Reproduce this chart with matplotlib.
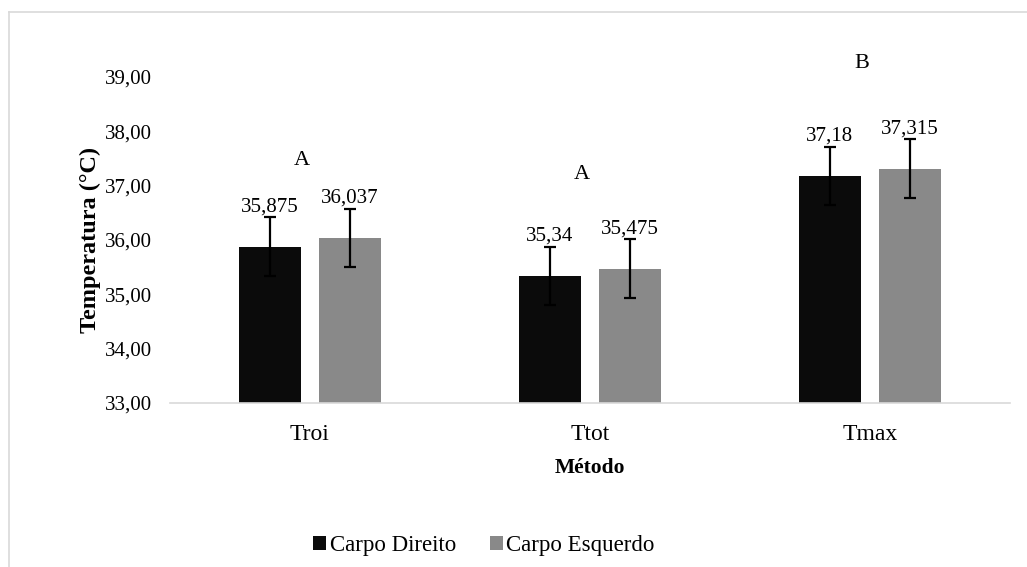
#!/usr/bin/env python3
"""Temperatura por metodo, carpo direito x esquerdo (barras com erro)."""

import matplotlib.pyplot as plt
import numpy as np
from matplotlib.lines import Line2D
from matplotlib.patches import Patch

plt.rcParams["font.family"] = ["Liberation Serif", "DejaVu Serif"]

metodos = ["Troi", "Ttot", "Tmax"]
carpo_direito = [35.875, 35.34, 37.18]
carpo_esquerdo = [36.037, 35.475, 37.315]
erro_direito = [0.54, 0.54, 0.54]
erro_esquerdo = [0.54, 0.54, 0.54]
rotulos_direito = ["35,875", "35,34", "37,18"]
rotulos_esquerdo = ["36,037", "35,475", "37,315"]
letras = ["A", "A", "B"]
letras_y = [37.47, 37.2, 39.24]
yticks = [33, 34, 35, 36, 37, 38, 39]

DARK = "#0b0b0b"
GRAY = "#898989"
LINE = "#d9d9d9"


def main():
    fig = plt.figure(figsize=(10.27, 5.67), dpi=100)
    ax = fig.add_axes([0.1655, 0.2892, 0.8179, 0.575])

    # chart border (only top and left visible in the original crop)
    fig.add_artist(Line2D([0.009, 1.0], [1 - 12 / 567] * 2, color=LINE, lw=1.2,
                          transform=fig.transFigure))
    fig.add_artist(Line2D([0.009, 0.009], [0.0, 1 - 12 / 567], color=LINE, lw=1.2,
                          transform=fig.transFigure))

    x = np.arange(len(metodos))
    width = 0.22
    off = 0.143
    err_kw = dict(ecolor="black", elinewidth=1.6, capsize=4.5, capthick=1.6)
    ax.bar(x - off, carpo_direito, width, yerr=erro_direito, color=DARK,
           error_kw=err_kw, zorder=2)
    ax.bar(x + off, carpo_esquerdo, width, yerr=erro_esquerdo, color=GRAY,
           error_kw=err_kw, zorder=2)

    for i in range(len(metodos)):
        ax.annotate(rotulos_direito[i], (x[i] - off, carpo_direito[i] + erro_direito[i]),
                    xytext=(0, 0.5), textcoords="offset points", ha="center", va="bottom",
                    fontsize=15, annotation_clip=False)
        ax.annotate(rotulos_esquerdo[i], (x[i] + off, carpo_esquerdo[i] + erro_esquerdo[i]),
                    xytext=(0, 0.5), textcoords="offset points", ha="center", va="bottom",
                    fontsize=15, annotation_clip=False)
        ax.text(x[i] - 0.03, letras_y[i], letras[i], ha="center", va="center",
                fontsize=16, clip_on=False)

    ax.set_xlim(-0.5, 2.5)
    ax.set_ylim(33, 39)
    ax.set_yticks(yticks)
    ax.set_yticklabels([f"{v:.2f}".replace(".", ",") for v in yticks], fontsize=15)
    ax.set_xticks(x)
    ax.set_xticklabels(metodos, fontsize=17)
    ax.tick_params(axis="x", length=0, pad=15)
    ax.tick_params(axis="y", length=0, pad=13)

    for side in ("top", "right", "left"):
        ax.spines[side].set_visible(False)
    ax.spines["bottom"].set_color(LINE)
    ax.spines["bottom"].set_linewidth(1.2)

    ax.set_ylabel("Temperatura (°C)", fontsize=17.5, fontweight="bold", labelpad=3)
    ax.set_xlabel("Método", fontsize=15.5, fontweight="bold", labelpad=9.5)

    handles = [Patch(facecolor=DARK), Patch(facecolor=GRAY)]
    fig.legend(handles, ["Carpo Direito", "Carpo Esquerdo"], loc="center",
               bbox_to_anchor=(484 / 1027, 1 - 546 / 567), ncol=2, frameon=False,
               fontsize=16.5, handlelength=0.55, handleheight=0.55, handletextpad=0.15,
               columnspacing=1.5)

    fig.savefig("out.png", dpi=100)
    plt.close(fig)


if __name__ == "__main__":
    main()
